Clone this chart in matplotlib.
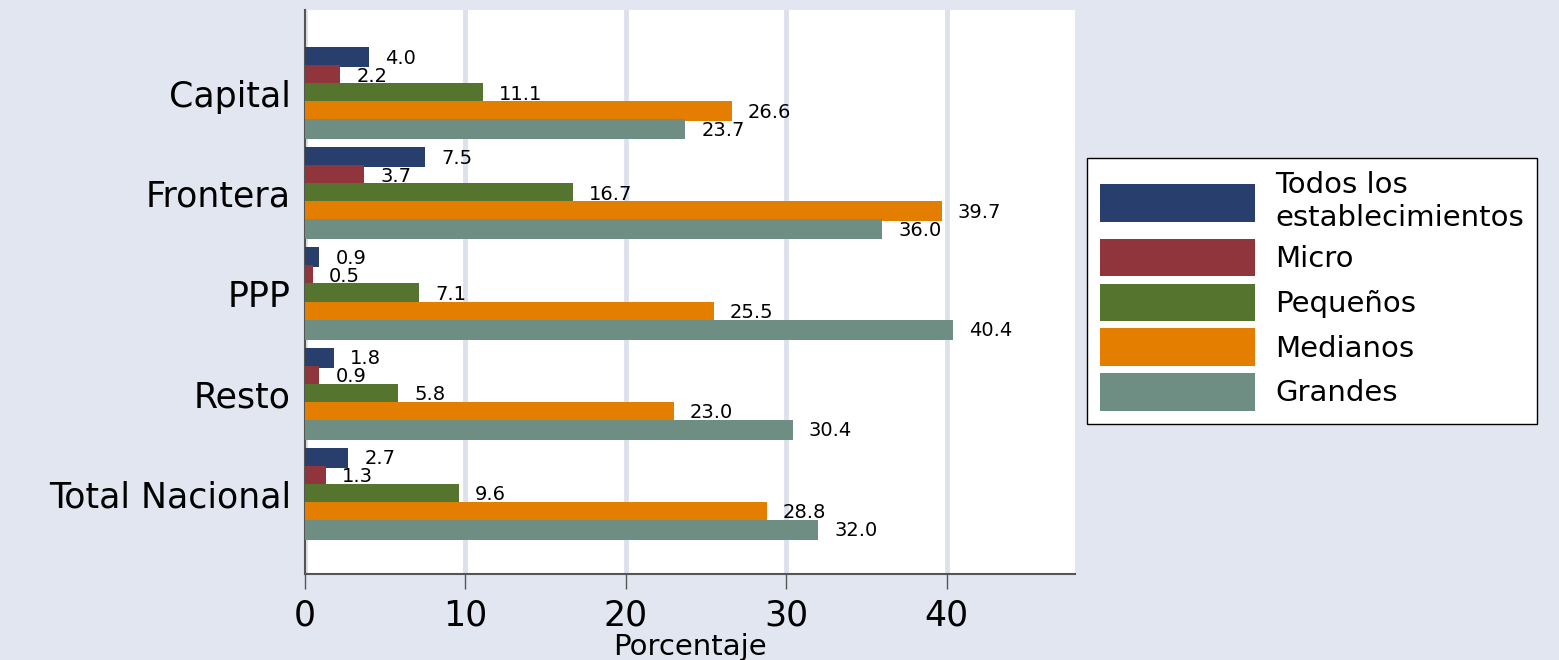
import numpy as np
import matplotlib.pyplot as plt

plt.rcParams['font.family'] = ['DejaVu Sans']

categorias = ['Capital', 'Frontera', 'PPP', 'Resto', 'Total Nacional']
series = ['Todos los\nestablecimientos', 'Micro', 'Pequeños', 'Medianos', 'Grandes']
todos = [4.0, 7.5, 0.9, 1.8, 2.7]
micro = [2.2, 3.7, 0.5, 0.9, 1.3]
pequenos = [11.1, 16.7, 7.1, 5.8, 9.6]
medianos = [26.6, 39.7, 25.5, 23.0, 28.8]
grandes = [23.7, 36.0, 40.4, 30.4, 32.0]
colores = ['#283F6E', '#90353B', '#55752F', '#E37E00', '#6E8E84']

bg = '#E1E6F0'
fig = plt.figure(figsize=(15.59, 6.6), dpi=100, facecolor=bg)
ax = fig.add_axes([305/1559, 1 - 574/660, 770/1559, 564/660])
ax.set_facecolor('white')

y = np.arange(len(categorias))
paso = 0.18
alto = 0.2
for i, (vals, col, lab) in enumerate(zip([todos, micro, pequenos, medianos, grandes], colores, series)):
    pos = y + (i - 2) * paso
    ax.barh(pos, vals, height=alto, color=col, label=lab, zorder=3)
    for p, v in zip(pos, vals):
        ax.text(v + 1.0, p + 0.01, f'{v:.1f}', va='center', ha='left', fontsize=14, zorder=4)

ax.set_xlim(0, 48)
ax.set_ylim(4.8, -0.83)
ax.set_xticks([0, 10, 20, 30, 40])
ax.set_xticklabels(['0', '10', '20', '30', '40'], fontsize=25)
ax.set_yticks(y)
ax.set_yticklabels(categorias, fontsize=25)
ax.tick_params(axis='y', length=0, pad=10)
ax.tick_params(axis='x', length=11, width=1, color='#555555', pad=7)
ax.xaxis.grid(True, color='#DCE1EC', linewidth=3.5, zorder=0)
ax.set_axisbelow(True)
ax.set_xlabel('Porcentaje', fontsize=21, labelpad=0)
for s in ['top', 'right']:
    ax.spines[s].set_visible(False)
for s in ['left', 'bottom']:
    ax.spines[s].set_color('#555555')
    ax.spines[s].set_linewidth(1.5)

leg = ax.legend(loc='upper left', bbox_to_anchor=(1087/1559, 1 - 158/660), bbox_transform=fig.transFigure,
                fontsize=21, frameon=True, fancybox=False, edgecolor='black', facecolor='white',
                framealpha=1, handlelength=5.3, handleheight=1.6, labelspacing=0.25,
                borderpad=0.45, borderaxespad=0, handletextpad=0.7)
leg.get_frame().set_linewidth(1)

fig.savefig('out.png', dpi=100, facecolor=bg)
